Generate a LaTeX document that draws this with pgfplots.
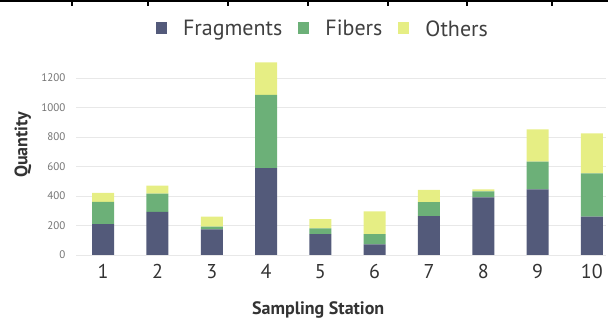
\documentclass[border=0pt]{standalone}
\usepackage{pgfplots}
\pgfplotsset{compat=1.18}
\usepackage{fontspec}
\setmainfont{PT Sans}
\definecolor{cfrag}{RGB}{83,90,122}
\definecolor{cfib}{RGB}{108,176,120}
\definecolor{coth}{RGB}{230,238,132}
\definecolor{gridc}{RGB}{232,232,232}
\begin{document}
\begin{tikzpicture}
\begin{axis}[
  at={(76pt,65pt)}, anchor=south west,
  scale only axis, width=530pt, height=199pt,
  ybar stacked, bar width=22pt,
  xmin=0.5, xmax=10.26, ymin=0, ymax=1350,
  xtick={1,...,10}, ytick={0,200,...,1200},
  axis line style={draw=none}, major tick length=0,
  ymajorgrids, grid style={gridc, line width=0.9pt},
  /pgf/number format/assume math mode=true,
  /pgf/number format/1000 sep={},
  yticklabel style={font=\fontsize{11}{12}\selectfont, text=black!55, xshift=-7pt},
  xticklabel style={font=\fontsize{20}{22}\selectfont, text=black!80, yshift=-6pt},
  xlabel={Sampling Station}, ylabel={Quantity},
  xlabel style={font=\fontsize{18}{20}\selectfont\bfseries, text=black!80, at={(axis description cs:0.457,-0.274)}, anchor=center},
  ylabel style={font=\fontsize{18}{20}\selectfont\bfseries, text=black!80, at={(axis description cs:-0.1,0.553)}, anchor=center},
  legend columns=3,
  legend style={draw=none, at={(axis description cs:0.466,1.136)}, anchor=center, font=\fontsize{22}{24}\selectfont, text=black!75, column sep=14pt},
  legend image code/.code={\fill[#1] (0pt,-5pt) rectangle (11pt,7pt);},
]
\addplot[fill=cfrag, draw=none] coordinates {(1,210) (2,292) (3,174) (4,590) (5,142) (6,72) (7,264) (8,391) (9,445) (10,260)};
\addplot[fill=cfib, draw=none] coordinates {(1,151) (2,124) (3,18) (4,497) (5,39) (6,70) (7,95) (8,41) (9,188) (10,294)};
\addplot[fill=coth, draw=none] coordinates {(1,61) (2,54) (3,68) (4,219) (5,63) (6,154) (7,82) (8,13) (9,219) (10,271)};
\legend{Fragments, Fibers, Others}
\end{axis}
\draw[line width=2pt] (0pt,319pt) -- (608pt,319pt);
\foreach \xx in {72,148,228,308,388,467,552} \draw[line width=1.2pt] (\xx pt,320pt) -- (\xx pt,314pt);
\pgfresetboundingbox
\path[use as bounding box] (0pt,0pt) rectangle (608pt,320pt);
\end{tikzpicture}
\end{document}
